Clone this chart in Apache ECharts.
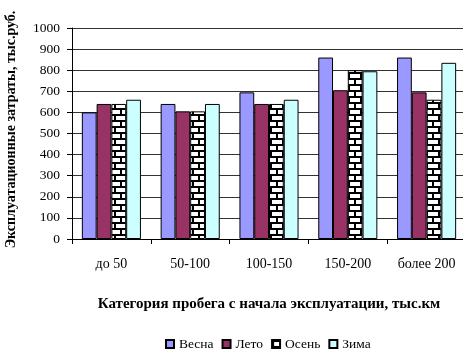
<!DOCTYPE html>
<html><head><meta charset="utf-8">
<script src="https://cdn.jsdelivr.net/npm/echarts@6/dist/echarts.min.js"></script>
<style>html,body{margin:0;padding:0;background:#fff}#c{width:463px;height:351px}</style>
</head><body><div id="c"></div>
<script>
const categories = ['до 50', '50-100', '100-150', '150-200', 'более 200'];
const seriesNames = ['Весна', 'Лето', 'Осень', 'Зима'];
const vesna = [600, 640, 695, 860, 860];
const leto  = [640, 605, 640, 705, 695];
const osen  = [640, 605, 640, 800, 660];
const zima  = [660, 640, 660, 795, 835];
const yTicks = [0, 100, 200, 300, 400, 500, 600, 700, 800, 900, 1000];

// brick hatch pattern
const pc = document.createElement('canvas');
pc.width = 12; pc.height = 12;
const g = pc.getContext('2d');
g.fillStyle = '#fff'; g.fillRect(0, 0, 12, 12);
g.fillStyle = '#000';
g.fillRect(0, 0, 12, 2);
g.fillRect(0, 6, 12, 2);
g.fillRect(0, 2, 2, 4);
g.fillRect(6, 8, 2, 4);

const font = '"Liberation Serif", "DejaVu Serif", serif';
const colors = ['#9999FF', '#993366', {image: pc, repeat: 'repeat'}, '#CCFFFF'];
const data = [vesna, leto, osen, zima];

const chart = echarts.init(document.getElementById('c'), null, {renderer: 'canvas'});
chart.setOption({
  animation: false,
  backgroundColor: '#fff',
  textStyle: {fontFamily: font, color: '#000'},
  grid: {left: 72, right: -3, top: 28, bottom: 112, outerBoundsMode: 'none', containLabel: false},
  legend: {
    top: 332, left: 160,
    icon: 'rect',
    itemWidth: 8, itemHeight: 8, itemGap: 8,
    textStyle: {fontFamily: font, fontSize: 13.5, color: '#000'},
    data: seriesNames
  },
  xAxis: {
    type: 'category', data: categories,
    name: 'Категория пробега с начала эксплуатации, тыс.км',
    nameLocation: 'middle', nameGap: 58,
    nameTextStyle: {fontFamily: font, fontWeight: 'bold', fontSize: 15, color: '#000'},
    axisLine: {lineStyle: {color: '#000', width: 1}},
    axisTick: {show: true, length: 5, lineStyle: {color: '#000'}, alignWithLabel: false},
    axisLabel: {fontFamily: font, fontSize: 14, color: '#000', margin: 18}
  },
  yAxis: {
    type: 'value', min: yTicks[0], max: yTicks[yTicks.length - 1], interval: 100,
    name: 'Эксплуатационные затраты, тыс.руб.',
    nameLocation: 'middle', nameGap: 54, nameRotate: 90,
    nameTextStyle: {fontFamily: font, fontWeight: 'bold', fontSize: 14, color: '#000', padding: [0, 0, 0, 8]},
    axisLine: {show: true, lineStyle: {color: '#000', width: 1}},
    axisTick: {show: true, length: 5, lineStyle: {color: '#000'}},
    axisLabel: {fontFamily: font, fontSize: 13.5, color: '#000', margin: 12, formatter: v => String(v)},
    splitLine: {show: true, lineStyle: {color: '#333', width: 1}}
  },
  series: seriesNames.map((n, i) => ({
    name: n, type: 'bar', data: data[i],
    barGap: '0%', barCategoryGap: '25%',
    itemStyle: {color: colors[i], borderColor: '#000', borderWidth: 1}
  }))
});
</script></body></html>
